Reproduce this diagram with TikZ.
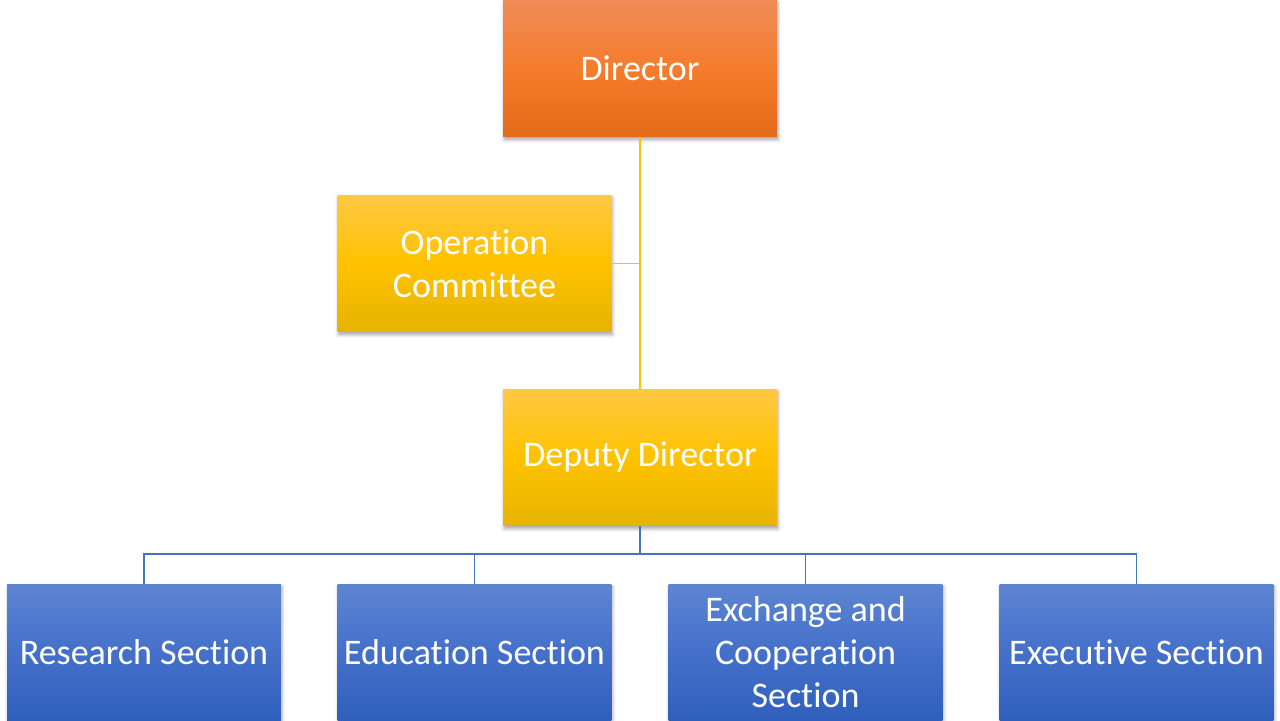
\documentclass[tikz,border=0pt]{standalone}
\usepackage{fontspec}
\setmainfont{Carlito}[Ligatures=NoCommon]
\usetikzlibrary{positioning,shadows.blur}
\definecolor{orangeTop}{HTML}{F08C58}
\definecolor{orangeMid}{HTML}{F47C2C}
\definecolor{orangeBot}{HTML}{E36A18}
\definecolor{goldTop}{HTML}{FFC843}
\definecolor{goldMid}{HTML}{FFC200}
\definecolor{goldBot}{HTML}{E6B300}
\definecolor{blueTop}{HTML}{5D85D1}
\definecolor{blueMid}{HTML}{4470CA}
\definecolor{blueBot}{HTML}{2F5FBC}
\definecolor{goldLine}{HTML}{FFC000}
\definecolor{blueLine}{HTML}{4472C4}
\tikzset{
  unit/.style={minimum width=5.48cm, minimum height=2.74cm, inner sep=2pt,
    text=white, align=center, font=\fontsize{20.5}{24.5}\selectfont,
    blur shadow={shadow xshift=0.6pt, shadow yshift=-1.6pt, shadow blur steps=4, shadow opacity=35}},
  headunit/.style={unit, top color=orangeTop, bottom color=orangeBot, middle color=orangeMid},
  goldunit/.style={unit, top color=goldTop, bottom color=goldBot, middle color=goldMid},
  blueunit/.style={unit, top color=blueTop, bottom color=blueBot, middle color=blueMid},
  goldlink/.style={draw=goldLine, line width=0.8pt},
  bluelink/.style={draw=blueLine, line width=0.8pt},
}
\begin{document}
\begin{tikzpicture}[x=0.02cm, y=-0.02cm]
  \useasboundingbox (0,0) rectangle (1280,720);
  \begin{scope}
    \clip (0,0) rectangle (1280,720);
    % Top of the chart
    \node[headunit] (dir) at (640,68.5) {Director};
    \node[goldunit] (opc) at (474.5,263.5) {Operation\\Committee};
    \node[goldunit] (dep) at (640,457.5) {Deputy Director};
    % Sections
    \node[blueunit] (res) at (144,652.5) {Research Section};
    \node[blueunit] (edu) at (474.5,652.5) {Education Section};
    \node[blueunit] (exc) at (805.5,652.5) {Exchange and\\Cooperation\\Section};
    \node[blueunit] (exe) at (1136.5,652.5) {Executive Section};
  \end{scope}
  \coordinate (bus) at (640,554);
  \draw[goldlink] (dir.south) -- (dep.north);
  \draw[goldlink] (opc.east) -- (opc.east -| dir.south);
  \draw[bluelink] (dep.south) -- (bus);
  \foreach \sec in {res,edu,exc,exe}
    \draw[bluelink] (\sec.north) |- (bus);
\end{tikzpicture}
\end{document}
